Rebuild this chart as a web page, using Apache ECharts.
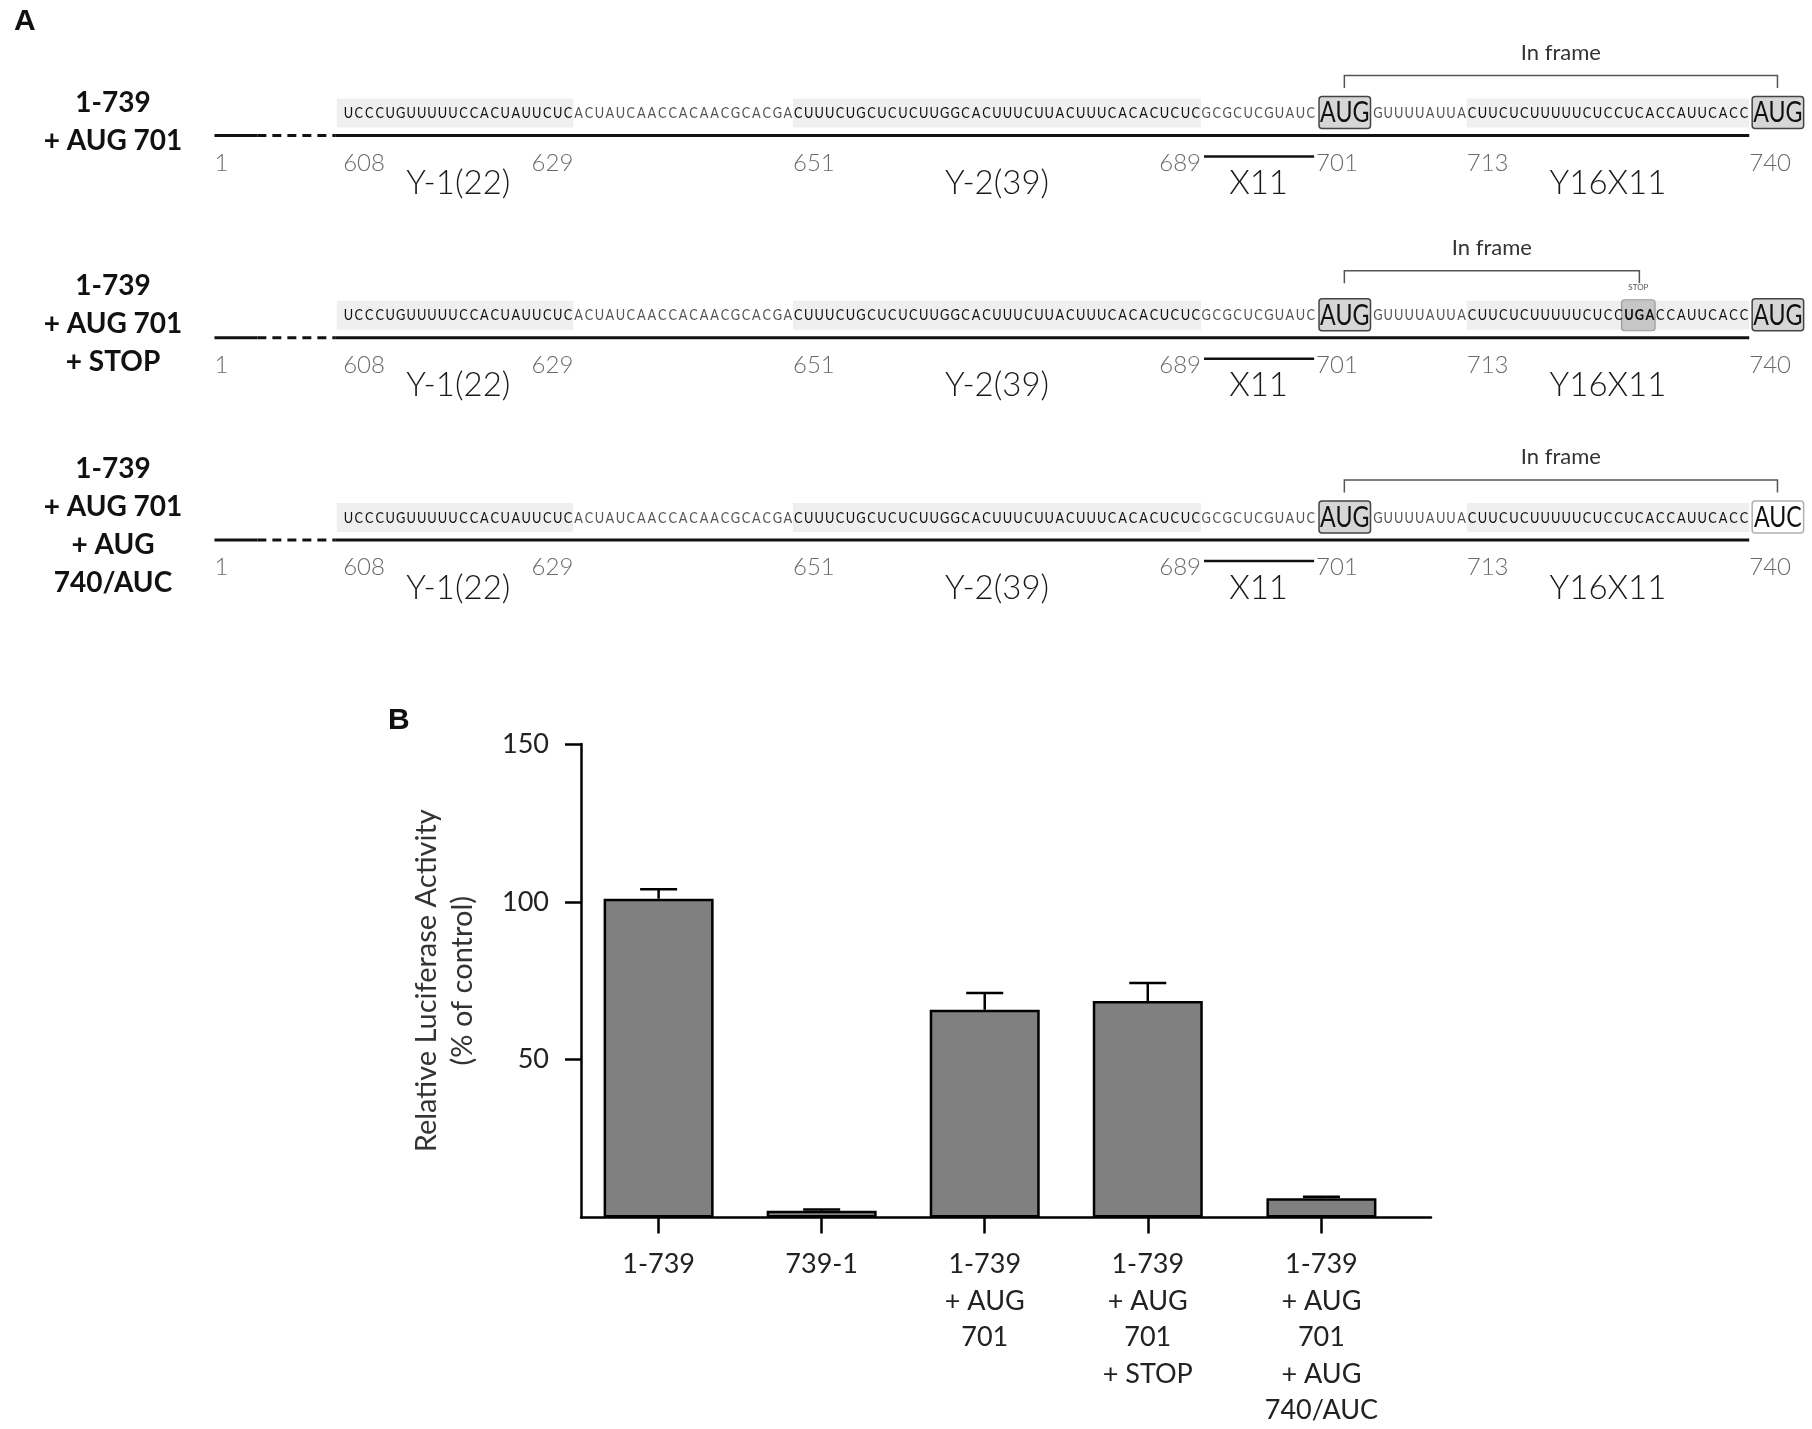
<!DOCTYPE html>
<html>
<head>
<meta charset="utf-8">
<script src="https://cdn.jsdelivr.net/npm/echarts@6/dist/echarts.min.js"></script>
<style>
  html, body { margin: 0; padding: 0; background: #fff; }
  #chart { width: 1812px; height: 1429px; }
</style>
</head>
<body>
<div id="chart"></div>
<script>
// ---- panel A data ----
var rowLabels = ['1-739\n+ AUG 701', '1-739\n+ AUG 701\n+ STOP', '1-739\n+ AUG 701\n+ AUG\n740/AUC'];
var seqFrom = 608;
var rowSeqs = [
  'UCCCUGUUUUUCCACUAUUCUCACUAUCAACCACAACGCACGACUUUCUGCUCUCUUGGCACUUUCUUACUUUCACACUCUCGCGCUCGUAUCAUGGUUUUAUUACUUCUCUUUUUCUCCUCACCAUUCACCAUG',
  'UCCCUGUUUUUCCACUAUUCUCACUAUCAACCACAACGCACGACUUUCUGCUCUCUUGGCACUUUCUUACUUUCACACUCUCGCGCUCGUAUCAUGGUUUUAUUACUUCUCUUUUUCUCCUGACCAUUCACCAUG',
  'UCCCUGUUUUUCCACUAUUCUCACUAUCAACCACAACGCACGACUUUCUGCUCUCUUGGCACUUUCUUACUUUCACACUCUCGCGCUCGUAUCAUGGUUUUAUUACUUCUCUUUUUCUCCUCACCAUUCACCAUC'
];
var bigCodons = [701, 740];
var endCodonOpen = [false, false, true];
var stopCodon = [null, 728, null];
var regionNames = ['Y-1(22)', 'Y-2(39)', 'X11', 'Y16X11'];
var regionFrom = [608, 651, 690, 713];
var regionTo = [629, 689, 700, 739];
var regionShaded = [true, true, false, true];
var tickPositions = [1, 608, 629, 651, 689, 701, 713, 740];
var tickSide = ['start', 'start', 'end', 'start', 'end', 'start', 'start', 'start'];

// ---- panel B data ----
var categories = ['1-739', '739-1', '1-739\n+ AUG\n701', '1-739\n+ AUG\n701\n+ STOP', '1-739\n+ AUG\n701\n+ AUG\n740/AUC'];
var catPos = [1, 2, 3, 4, 5.065];
var activity = [101, 2.1, 65.8, 68.6, 6.1];
var sem = [3.0, 0.4, 5.3, 5.7, 0.5];
var yTicks = [50, 100, 150];

// slot layout: one slot per nucleotide, enlarged codons take BIG slots
var BIG = 5.4;
var slotStart = {};
(function () {
  var s = 0, last = seqFrom + rowSeqs[0].length - 1;
  for (var p = seqFrom; p <= last; p++) {
    if (bigCodons.indexOf(p) >= 0) {
      for (var k = 0; k < 3; k++) slotStart[p + k] = s + k * BIG / 3;
      s += BIG; p += 2;
    } else {
      slotStart[p] = s; s += 1;
    }
  }
  slotStart.end = s;
})();
function slotEnd(p) {
  if (bigCodons.indexOf(p - 2) >= 0) return slotStart[p - 2] + BIG;
  return slotStart[p] + 1;
}
var LINE_START = -12.3, DASH_FROM = -8.2, DASH_TO = -0.7, LABEL_SLOT = -22;

var FONT = 'Lato, "Open Sans", sans-serif';

function renderRow(params, api) {
  var r = api.value(1);
  var X = function (s) { return api.coord([s, r])[0]; };
  var y0 = api.coord([0, r])[1];
  var seq = rowSeqs[r];
  var kids = [];

  kids.push({ type: 'text', x: X(LABEL_SLOT), y: y0 - 14,
    style: { text: rowLabels[r], fill: '#111', fontSize: 28, fontWeight: 'bold', fontFamily: FONT,
      lineHeight: 38, align: 'center', verticalAlign: 'middle' } });

  // shaded regions
  regionNames.forEach(function (n, i) {
    if (!regionShaded[i]) return;
    var a = X(slotStart[regionFrom[i]] - (i === 0 ? 0.6 : 0)), b = X(slotEnd(regionTo[i]));
    kids.push({ type: 'rect', shape: { x: a, y: y0 - 37, width: b - a, height: 29 }, style: { fill: '#efefef' } });
  });

  // backbone
  var lw = 3, lc = '#111';
  kids.push({ type: 'line', shape: { x1: X(LINE_START), y1: y0, x2: X(DASH_FROM), y2: y0 }, style: { stroke: lc, lineWidth: lw } });
  kids.push({ type: 'line', shape: { x1: X(DASH_FROM), y1: y0, x2: X(DASH_TO), y2: y0 }, style: { stroke: lc, lineWidth: lw, lineDash: [9, 6] } });
  kids.push({ type: 'line', shape: { x1: X(DASH_TO), y1: y0, x2: X(slotStart[bigCodons[1]]), y2: y0 }, style: { stroke: lc, lineWidth: lw } });

  // nucleotides
  for (var i = 0; i < seq.length; i++) {
    var p = seqFrom + i;
    var big = -1;
    bigCodons.forEach(function (c) { if (p >= c && p < c + 3) big = c; });
    if (big >= 0) continue;
    var shaded = false;
    regionNames.forEach(function (n, j) { if (regionShaded[j] && p >= regionFrom[j] && p <= regionTo[j]) shaded = true; });
    var isStop = stopCodon[r] !== null && p >= stopCodon[r] && p < stopCodon[r] + 3;
    if (isStop && p === stopCodon[r]) {
      var sa = X(slotStart[p] - 0.2), sb = X(slotStart[p] + 3);
      kids.push({ type: 'rect', shape: { x: sa, y: y0 - 38, width: sb - sa, height: 31, r: 3 },
        style: { fill: '#c6c6c6', stroke: '#9a9a9a', lineWidth: 1.2 } });
      kids.push({ type: 'text', x: (sa + sb) / 2, y: y0 - 50,
        style: { text: 'STOP', fill: '#555', fontSize: 8, fontFamily: FONT, align: 'center', verticalAlign: 'middle' } });
    }
    kids.push({ type: 'text', x: X(slotStart[p] + 0.5), y: y0 - 22.5, scaleX: 0.8, z2: 5,
      style: { text: seq.charAt(i), fill: shaded || isStop ? '#111' : '#555', fontSize: 16,
        fontWeight: isStop ? 'bold' : 'normal', fontFamily: FONT, align: 'center', verticalAlign: 'middle' } });
  }

  // enlarged codons
  bigCodons.forEach(function (c, k) {
    var open = k === 1 && endCodonOpen[r];
    var a = X(slotStart[c] + 0.28), b = X(slotStart[c] + BIG - 0.2);
    kids.push({ type: 'rect', shape: { x: a, y: y0 - 39, width: b - a, height: 32, r: 3 },
      style: { fill: open ? '#fff' : '#d6d6d6', stroke: open ? '#b0b0b0' : '#444', lineWidth: 1.5 } });
    var txt = seq.substr(c - seqFrom, 3);
    kids.push({ type: 'text', x: (a + b) / 2, y: y0 - 22.5, scaleX: 0.8,
      style: { text: txt, fill: '#111', fontSize: 29, fontFamily: FONT, align: 'center', verticalAlign: 'middle' } });
  });

  // in-frame bracket
  var bx1 = X(slotStart[bigCodons[0]] + BIG / 2);
  var bx2 = stopCodon[r] !== null ? X(slotStart[stopCodon[r]] + 1.5) : X(slotStart[bigCodons[1]] + BIG / 2);
  var by = stopCodon[r] !== null ? y0 - 67 : y0 - 60;
  kids.push({ type: 'polyline', shape: { points: [[bx1, by + 12.5], [bx1, by], [bx2, by], [bx2, by + 12.5]] },
    style: { stroke: '#555', lineWidth: 1.5, fill: 'none' } });
  kids.push({ type: 'text', x: (bx1 + bx2) / 2, y: by - 23,
    style: { text: 'In frame', fill: '#333', fontSize: 22, fontFamily: FONT, align: 'center', verticalAlign: 'middle' } });

  // position ticks
  tickPositions.forEach(function (p, i) {
    var s = p < seqFrom ? LINE_START : (tickSide[i] === 'end' ? slotEnd(p) : slotStart[p]);
    kids.push({ type: 'text', x: X(s), y: y0 + 27.5,
      style: { text: String(p), fill: '#6a6a6a', fontSize: 24, fontWeight: 300, fontFamily: FONT,
        align: tickSide[i] === 'end' ? 'right' : 'left', verticalAlign: 'middle' } });
  });

  // region names and X11 bar
  regionNames.forEach(function (n, i) {
    var a = X(slotStart[regionFrom[i]]), b = X(slotEnd(regionTo[i]));
    if (!regionShaded[i]) {
      kids.push({ type: 'line', shape: { x1: a + 3, y1: y0 + 21, x2: b - 2, y2: y0 + 21 }, style: { stroke: '#111', lineWidth: 2.5 } });
    }
    kids.push({ type: 'text', x: (a + b) / 2, y: y0 + 48,
      style: { text: n, fill: '#1a1a1a', fontSize: 33, fontWeight: 300, fontFamily: FONT, align: 'center', verticalAlign: 'middle' } });
  });

  return { type: 'group', children: kids };
}

function renderErr(params, api) {
  var x = api.value(0), v = api.value(1), e = api.value(2);
  var p0 = api.coord([x, v]), p1 = api.coord([x, v + e]);
  var half = 18.5;
  return { type: 'group', children: [
    { type: 'line', shape: { x1: p0[0], y1: p0[1], x2: p1[0], y2: p1[1] }, style: { stroke: '#000', lineWidth: 2.5 } },
    { type: 'line', shape: { x1: p1[0] - half, y1: p1[1], x2: p1[0] + half, y2: p1[1] }, style: { stroke: '#000', lineWidth: 2.5 } }
  ] };
}

var chart = echarts.init(document.getElementById('chart'));
var axisLine = { lineStyle: { color: '#000', width: 2.5 } };
var option = {
  backgroundColor: '#fff',
  animation: false,
  title: [
    { text: 'A', left: 14, top: 7, padding: 0, textStyle: { fontSize: 30, fontWeight: 'bold', color: '#111', fontFamily: 'Liberation Sans, Arial, sans-serif' } },
    { text: 'B', left: 388, top: 706, padding: 0, textStyle: { fontSize: 30, fontWeight: 'bold', color: '#111', fontFamily: 'Liberation Sans, Arial, sans-serif' } }
  ],
  grid: [
    { left: 0, right: 0, top: 135.5, height: 404.5 },
    { left: 581, right: 381, top: 744, bottom: 208 }
  ],
  xAxis: [
    { gridIndex: 0, type: 'value', min: -32.8, max: 140.4, show: false },
    { gridIndex: 1, type: 'value', min: 0.524, max: 5.737, splitLine: { show: false }, axisLine: axisLine,
      axisTick: { customValues: catPos, length: 16, lineStyle: { color: '#000', width: 2.5 } },
      axisLabel: { customValues: catPos, margin: 29, fontSize: 27, lineHeight: 36.5, color: '#222', fontFamily: FONT,
        formatter: function (v) { var i = catPos.indexOf(v); return i >= 0 ? categories[i] : ''; } } }
  ],
  yAxis: [
    { gridIndex: 0, type: 'value', min: 0, max: 2, inverse: true, show: false },
    { gridIndex: 1, type: 'value', min: 0, max: 150, splitLine: { show: false },
      axisLine: { show: true, lineStyle: { color: '#000', width: 2.5 } },
      axisTick: { show: true, customValues: yTicks, length: 16, lineStyle: { color: '#000', width: 2.5 } },
      axisLabel: { customValues: yTicks, margin: 32, fontSize: 27, color: '#222', fontFamily: FONT },
      name: 'Relative Luciferase Activity\n(% of control)', nameLocation: 'middle', nameRotate: 90, nameGap: 100,
      nameTextStyle: { fontSize: 29, lineHeight: 36, color: '#333', fontWeight: 'normal', fontFamily: FONT, align: 'center' } }
  ],
  series: [
    { type: 'custom', xAxisIndex: 0, yAxisIndex: 0, renderItem: renderRow, clip: false,
      data: rowLabels.map(function (l, i) { return [0, i]; }) },
    { type: 'bar', xAxisIndex: 1, yAxisIndex: 1, barWidth: 110,
      itemStyle: { color: '#808080', borderColor: '#000', borderWidth: 2.5 },
      data: catPos.map(function (x, i) { return [x, activity[i]]; }) },
    { type: 'custom', xAxisIndex: 1, yAxisIndex: 1, renderItem: renderErr, z: 5,
      data: catPos.map(function (x, i) { return [x, activity[i], sem[i]]; }) }
  ]
};
chart.setOption(option);
</script>
</body>
</html>
